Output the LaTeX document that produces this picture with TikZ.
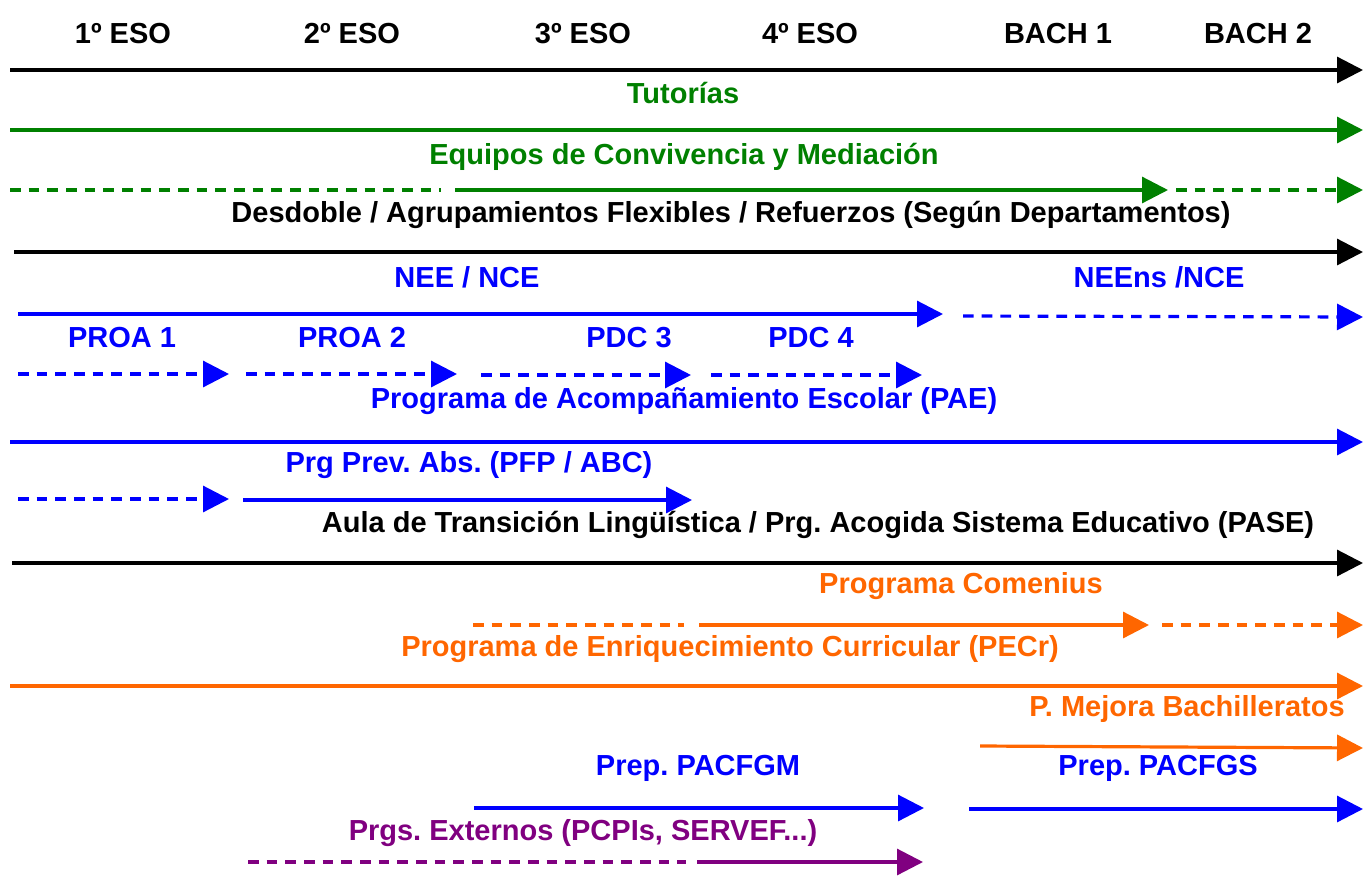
\documentclass[tikz,border=0pt]{standalone}
\usepackage{fontspec}
\setmainfont{Liberation Sans}
\usetikzlibrary{arrows.meta}

\definecolor{cGreen}{RGB}{0,128,0}
\definecolor{cBlue}{RGB}{0,0,255}
\definecolor{cOrange}{RGB}{255,102,0}
\definecolor{cPurple}{RGB}{128,0,128}

\tikzset{every picture/.style={line width=2.4pt},
  lbl/.style={font=\fontsize{21.75}{26}\selectfont\bfseries\frenchspacing, inner sep=0pt, anchor=base},
  arw/.style={-{Triangle[length=19.5pt,width=19.5pt]}},
  dsh/.style={dash pattern=on 8pt off 6pt}}

\begin{document}
\begin{tikzpicture}[x=0.75pt,y=0.75pt,yscale=-1,xscale=1]
\useasboundingbox (0,0) rectangle (1363,875);

% Text Node
\draw (123,43) node [lbl] (eso1) {1º ESO};
% Text Node
\draw (352,43) node [lbl] (eso2) {2º ESO};
% Text Node
\draw (583,43) node [lbl] (eso3) {3º ESO};
% Text Node
\draw (810,43) node [lbl] (eso4) {4º ESO};
% Text Node
\draw (1058,43) node [lbl] (bach1) {BACH 1};
% Text Node
\draw (1258,43) node [lbl] (bach2) {BACH 2};

%Straight Lines
\draw [arw] (10,70) -- (1363,70) ;

% Text Node
\draw (683,103) node [lbl,cGreen] (tut) {Tutorías};
%Straight Lines
\draw [arw,cGreen] (10,130) -- (1363,130) ;

% Text Node
\draw (684,164) node [lbl,cGreen] (equip) {Equipos de Convivencia y Mediación};
%Straight Lines
\draw [dsh,cGreen] (10,190) -- (441,190) ;
\draw [arw,cGreen] (455,190) -- (1168,190) ;
\draw [arw,dsh,cGreen] (1176,190) -- (1363,190) ;

% Text Node
\draw (731,222) node [lbl] (desd) {Desdoble / Agrupamientos Flexibles / Refuerzos (Según Departamentos)};
%Straight Lines
\draw [arw] (14,252) -- (1363,252) ;

% Text Node
\draw (467,287) node [lbl,cBlue] (nee) {NEE / NCE};
% Text Node
\draw (1159,287) node [lbl,cBlue] (neens) {NEEns /NCE};
%Straight Lines
\draw [arw,cBlue] (18,314) -- (943,314) ;
\draw [arw,dsh,cBlue] (963,316) -- (1363,317) ;

% Text Node
\draw (122,347) node [lbl,cBlue] (proa1) {PROA 1};
% Text Node
\draw (352,347) node [lbl,cBlue] (proa2) {PROA 2};
% Text Node
\draw (629,347) node [lbl,cBlue] (pdc3) {PDC 3};
% Text Node
\draw (811,347) node [lbl,cBlue] (pdc4) {PDC 4};
%Straight Lines
\draw [arw,dsh,cBlue] (18,374) -- (229,374) ;
\draw [arw,dsh,cBlue] (246,374) -- (457,374) ;
\draw [arw,dsh,cBlue] (481,375) -- (691,375) ;
\draw [arw,dsh,cBlue] (711,375) -- (922,375) ;

% Text Node
\draw (684,408) node [lbl,cBlue] (pae) {Programa de Acompañamiento Escolar (PAE)};
%Straight Lines
\draw [arw,cBlue] (10,442) -- (1363,442) ;

% Text Node
\draw (469,472) node [lbl,cBlue] (prev) {Prg Prev. Abs. (PFP / ABC)};
%Straight Lines
\draw [arw,dsh,cBlue] (18,499) -- (229,499) ;
\draw [arw,cBlue] (243,500) -- (692,500) ;

% Text Node
\draw (818,532) node [lbl] (aula) {Aula de Transición Lingüística / Prg. Acogida Sistema Educativo (PASE)};
%Straight Lines
\draw [arw] (12,563) -- (1363,563) ;

% Text Node
\draw (961,593) node [lbl,cOrange] (comen) {Programa Comenius};
%Straight Lines
\draw [dsh,cOrange] (473,625) -- (684,625) ;
\draw [arw,cOrange] (699,625) -- (1149,625) ;
\draw [arw,dsh,cOrange] (1162,625) -- (1363,625) ;

% Text Node
\draw (730,656) node [lbl,cOrange] (pecr) {Programa de Enriquecimiento Curricular (PECr)};
%Straight Lines
\draw [arw,cOrange] (10,686) -- (1363,686) ;

% Text Node
\draw (1187,716) node [lbl,cOrange] (mejora) {P. Mejora Bachilleratos};
%Straight Lines
\draw [arw,cOrange] (980,746) -- (1363,748) ;

% Text Node
\draw (698,775) node [lbl,cBlue] (pacfgm) {Prep. PACFGM};
% Text Node
\draw (1158,775) node [lbl,cBlue] (pacfgs) {Prep. PACFGS};
%Straight Lines
\draw [arw,cBlue] (474,808) -- (924,808) ;
\draw [arw,cBlue] (969,809) -- (1363,809) ;

% Text Node
\draw (583,840) node [lbl,cPurple] (extern) {Prgs. Externos (PCPIs, SERVEF...)};
%Straight Lines
\draw [dsh,cPurple] (248,862) -- (686,862) ;
\draw [arw,cPurple] (697,862) -- (923,862) ;

\end{tikzpicture}
\end{document}
